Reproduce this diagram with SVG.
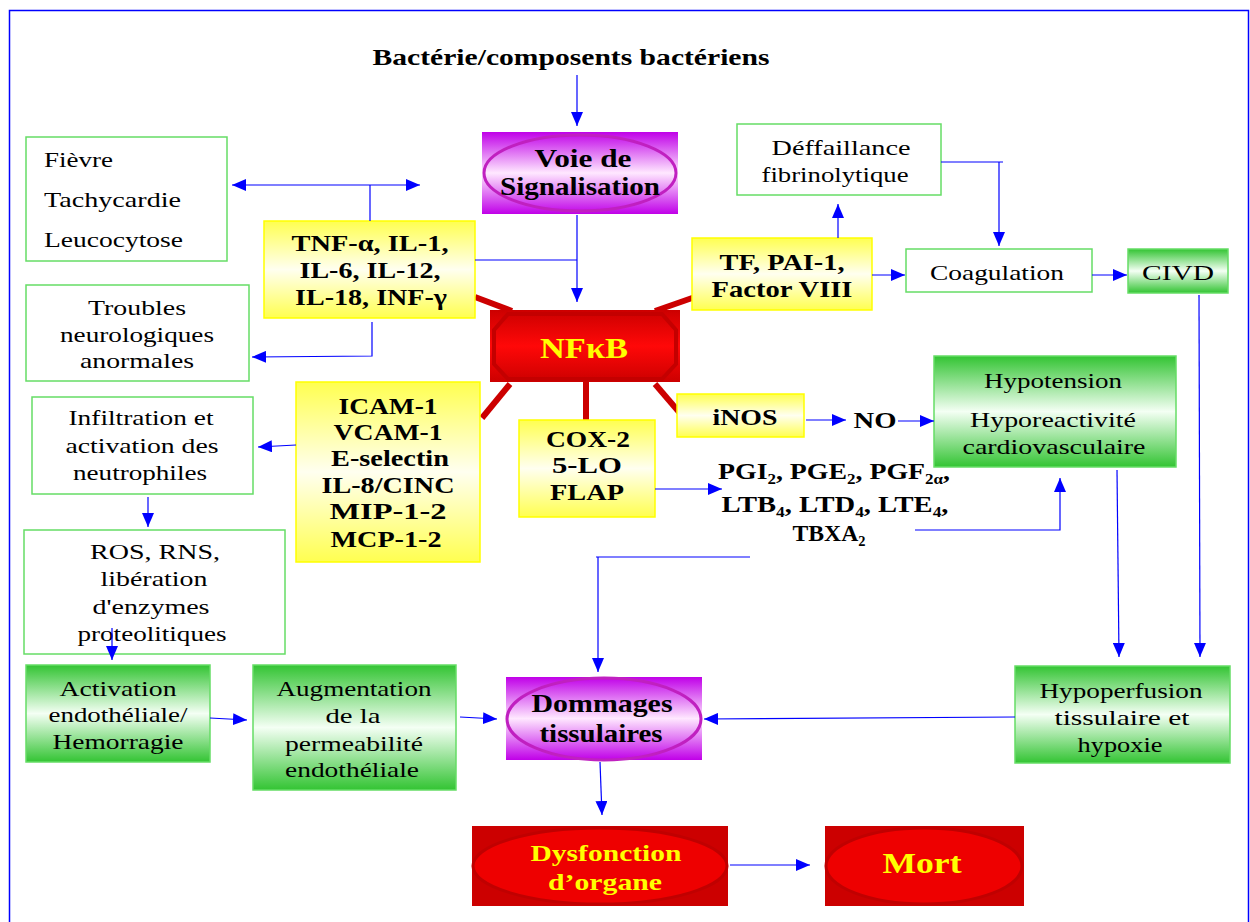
<svg xmlns="http://www.w3.org/2000/svg" width="1250" height="922" viewBox="0 0 1250 922">
<defs>
<linearGradient id="gy" x1="0" y1="0" x2="0" y2="1"><stop offset="0" stop-color="#ffff50"/><stop offset="0.5" stop-color="#fffff0"/><stop offset="1" stop-color="#ffff50"/></linearGradient>
<linearGradient id="gg" x1="0" y1="0" x2="0" y2="1"><stop offset="0" stop-color="#33c433"/><stop offset="0.5" stop-color="#f4fff4"/><stop offset="1" stop-color="#33c433"/></linearGradient>
<linearGradient id="gp" x1="0" y1="0" x2="0" y2="1"><stop offset="0" stop-color="#c000e8"/><stop offset="0.5" stop-color="#ffe8ff"/><stop offset="1" stop-color="#c000e8"/></linearGradient>
<linearGradient id="gr" x1="0" y1="0" x2="0" y2="1"><stop offset="0" stop-color="#cc0000"/><stop offset="0.5" stop-color="#ff0808"/><stop offset="1" stop-color="#cc0000"/></linearGradient>
<marker id="ah" markerUnits="userSpaceOnUse" markerWidth="14" markerHeight="12" viewBox="0 0 14 12" refX="14" refY="6" orient="auto-start-reverse"><path d="M0,0 L14,6 L0,12 z" fill="#0000ff"/></marker>
<style>
text{font-family:"Liberation Serif","Times New Roman",serif;fill:#000;}
.b{font-weight:bold;}
.t20{font-size:22px;}
.t22{font-size:23px;}
.t25{font-size:25px;}
.c{text-anchor:middle;}
.yl{fill:url(#gy);stroke:#ffff00;stroke-width:1.5;}
.gr{fill:url(#gg);stroke:#66dd66;stroke-width:1.5;}
.wb{fill:#fff;stroke:#66dd66;stroke-width:1.5;}
.pu{fill:url(#gp);}
.pe{fill:none;stroke:#c020c0;stroke-width:3;}
.rd{fill:url(#gr);}
.re{fill:none;stroke:#c40000;stroke-width:4;}
.yt{fill:#ffff00;}
.cn{stroke:#0000ff;stroke-width:1.2;fill:none;}
.ar{marker-end:url(#ah);}
.sp{stroke:#cc0000;stroke-width:6;}
.sub{font-size:14px;}
</style>
</defs>
<rect x="9.5" y="10.5" width="1239" height="920" fill="#fff" stroke="#0000ff" stroke-width="1.5"/>

<g id="spokes">
<line class="sp" x1="475" y1="297" x2="512" y2="311"/>
<line class="sp" x1="695" y1="297" x2="655" y2="311"/>
<line class="sp" x1="510" y1="384" x2="482" y2="418"/>
<line class="sp" x1="586" y1="382" x2="586" y2="420"/>
<line class="sp" x1="655" y1="384" x2="679" y2="412"/>
</g>

<g id="title"><text class="b t22 c" x="571" y="65" textLength="397" lengthAdjust="spacingAndGlyphs">Bactérie/composents bactériens</text></g>

<g id="voie">
<rect class="pu" x="482" y="132" width="196" height="82"/>
<ellipse class="pe" cx="580" cy="173" rx="96" ry="38"/>
<text class="b t25 c" x="583" y="167" textLength="97" lengthAdjust="spacingAndGlyphs">Voie de</text>
<text class="b t25 c" x="580" y="195" textLength="160" lengthAdjust="spacingAndGlyphs">Signalisation</text>
</g>

<g id="nfkb">
<rect class="rd" x="490" y="310" width="190" height="72"/>
<polygon class="re" points="508,314 662,314 676,330 676,364 662,379 508,379 494,364 494,330"/>
<text class="b yt c" style="font-size:29px" x="584" y="358" textLength="88" lengthAdjust="spacingAndGlyphs">NFκB</text>
</g>

<g id="tnf">
<rect class="yl" x="264" y="221" width="211" height="97"/>
<text class="b t22 c" x="370" y="251" textLength="157" lengthAdjust="spacingAndGlyphs">TNF-α, IL-1,</text>
<text class="b t22 c" x="370" y="278" textLength="141" lengthAdjust="spacingAndGlyphs">IL-6, IL-12,</text>
<text class="b t22 c" x="371" y="305" textLength="152" lengthAdjust="spacingAndGlyphs">IL-18, INF-γ</text>
</g>

<g id="fievre">
<rect class="wb" x="26" y="137" width="201" height="124"/>
<text class="t20" x="44" y="167" textLength="69" lengthAdjust="spacingAndGlyphs">Fièvre</text>
<text class="t20" x="44" y="207" textLength="137" lengthAdjust="spacingAndGlyphs">Tachycardie</text>
<text class="t20" x="44" y="247" textLength="139" lengthAdjust="spacingAndGlyphs">Leucocytose</text>
</g>

<g id="troubles">
<rect class="wb" x="26" y="285" width="223" height="96"/>
<text class="t20 c" x="137" y="315" textLength="98" lengthAdjust="spacingAndGlyphs">Troubles</text>
<text class="t20 c" x="137" y="342" textLength="154" lengthAdjust="spacingAndGlyphs">neurologiques</text>
<text class="t20 c" x="137" y="368" textLength="114" lengthAdjust="spacingAndGlyphs">anormales</text>
</g>

<g id="icam">
<rect class="yl" x="296" y="382" width="184" height="180"/>
<text class="b t22 c" x="388" y="414" textLength="99" lengthAdjust="spacingAndGlyphs">ICAM-1</text>
<text class="b t22 c" x="388" y="440" textLength="109" lengthAdjust="spacingAndGlyphs">VCAM-1</text>
<text class="b t22 c" x="390" y="466" textLength="118" lengthAdjust="spacingAndGlyphs">E-selectin</text>
<text class="b t22 c" x="388" y="493" textLength="133" lengthAdjust="spacingAndGlyphs">IL-8/CINC</text>
<text class="b t22 c" x="388" y="519" textLength="117" lengthAdjust="spacingAndGlyphs">MIP-1-2</text>
<text class="b t22 c" x="386" y="547" textLength="111" lengthAdjust="spacingAndGlyphs">MCP-1-2</text>
</g>

<g id="infiltration">
<rect class="wb" x="32" y="397" width="221" height="97"/>
<text class="t20 c" x="141" y="425" textLength="145" lengthAdjust="spacingAndGlyphs">Infiltration et</text>
<text class="t20 c" x="142" y="453" textLength="153" lengthAdjust="spacingAndGlyphs">activation des</text>
<text class="t20 c" x="140" y="480" textLength="134" lengthAdjust="spacingAndGlyphs">neutrophiles</text>
</g>

<g id="ros">
<rect class="wb" x="24" y="530" width="261" height="124"/>
<text class="t20 c" x="155" y="559" textLength="130" lengthAdjust="spacingAndGlyphs">ROS, RNS,</text>
<text class="t20 c" x="154" y="586" textLength="107" lengthAdjust="spacingAndGlyphs">libération</text>
<text class="t20 c" x="151" y="614" textLength="117" lengthAdjust="spacingAndGlyphs">d'enzymes</text>
<text class="t20 c" x="152" y="641" textLength="149" lengthAdjust="spacingAndGlyphs">proteolitiques</text>
</g>

<g id="activation">
<rect class="gr" x="26" y="665" width="184" height="97"/>
<text class="t20 c" x="118" y="696" textLength="117" lengthAdjust="spacingAndGlyphs">Activation</text>
<text class="t20 c" x="118" y="722" textLength="139" lengthAdjust="spacingAndGlyphs">endothéliale/</text>
<text class="t20 c" x="118" y="749" textLength="131" lengthAdjust="spacingAndGlyphs">Hemorragie</text>
</g>

<g id="augmentation">
<rect class="gr" x="253" y="665" width="203" height="125"/>
<text class="t20 c" x="354" y="696" textLength="155" lengthAdjust="spacingAndGlyphs">Augmentation</text>
<text class="t20 c" x="353" y="723" textLength="55" lengthAdjust="spacingAndGlyphs">de la</text>
<text class="t20 c" x="354" y="751" textLength="138" lengthAdjust="spacingAndGlyphs">permeabilité</text>
<text class="t20 c" x="352" y="777" textLength="134" lengthAdjust="spacingAndGlyphs">endothéliale</text>
</g>

<g id="dommages">
<rect class="pu" x="506" y="677" width="196" height="83"/>
<ellipse class="pe" cx="604" cy="719" rx="97" ry="41"/>
<text class="b t25 c" x="602" y="712" textLength="141" lengthAdjust="spacingAndGlyphs">Dommages</text>
<text class="b t25 c" x="601" y="742" textLength="123" lengthAdjust="spacingAndGlyphs">tissulaires</text>
</g>

<g id="dysfonction">
<rect fill="#cc0000" x="472" y="826" width="256" height="80"/>
<ellipse fill="#ee0000" stroke="#c00000" stroke-width="3" cx="600" cy="866" rx="127" ry="38"/>
<text class="b t22 c yt" x="606" y="861" textLength="151" lengthAdjust="spacingAndGlyphs">Dysfonction</text>
<text class="b t22 c yt" x="605" y="890" textLength="114" lengthAdjust="spacingAndGlyphs">d’organe</text>
</g>

<g id="mort">
<rect fill="#cc0000" x="825" y="826" width="199" height="80"/>
<ellipse fill="#ee0000" stroke="#c00000" stroke-width="3" cx="924" cy="866" rx="98" ry="38"/>
<text class="b c yt" style="font-size:29px" x="922" y="873" textLength="79" lengthAdjust="spacingAndGlyphs">Mort</text>
</g>

<g id="cox">
<rect class="yl" x="519" y="420" width="136" height="97"/>
<text class="b t22 c" x="588" y="447" textLength="84" lengthAdjust="spacingAndGlyphs">COX-2</text>
<text class="b t22 c" x="587" y="473" textLength="70" lengthAdjust="spacingAndGlyphs">5-LO</text>
<text class="b t22 c" x="587" y="500" textLength="74" lengthAdjust="spacingAndGlyphs">FLAP</text>
</g>

<g id="prostaglandines">
<text class="b t22 c" x="834" y="479" textLength="232" lengthAdjust="spacingAndGlyphs">PGI<tspan class="sub" dy="5">2</tspan><tspan dy="-5">, PGE</tspan><tspan class="sub" dy="5">2</tspan><tspan dy="-5">, PGF</tspan><tspan class="sub" dy="5">2α</tspan><tspan dy="-5">,</tspan></text>
<text class="b t22 c" x="835" y="512" textLength="227" lengthAdjust="spacingAndGlyphs">LTB<tspan class="sub" dy="5">4</tspan><tspan dy="-5">, LTD</tspan><tspan class="sub" dy="5">4</tspan><tspan dy="-5">, LTE</tspan><tspan class="sub" dy="5">4</tspan><tspan dy="-5">,</tspan></text>
<text class="b t22 c" x="829" y="541" textLength="73" lengthAdjust="spacingAndGlyphs">TBXA<tspan class="sub" dy="5">2</tspan></text>
</g>

<g id="inos">
<rect class="yl" x="677" y="394" width="127" height="43"/>
<text class="b t22 c" x="745" y="425" textLength="65" lengthAdjust="spacingAndGlyphs">iNOS</text>
</g>

<g id="no"><text class="b t22 c" x="875" y="428" textLength="43" lengthAdjust="spacingAndGlyphs">NO</text></g>

<g id="hypotension">
<rect class="gr" x="934" y="356" width="242" height="111"/>
<text class="t20 c" x="1053" y="388" textLength="138" lengthAdjust="spacingAndGlyphs">Hypotension</text>
<text class="t20 c" x="1053" y="427" textLength="166" lengthAdjust="spacingAndGlyphs">Hyporeactivité</text>
<text class="t20 c" x="1054" y="454" textLength="183" lengthAdjust="spacingAndGlyphs">cardiovasculaire</text>
</g>

<g id="tf">
<rect class="yl" x="692" y="238" width="180" height="72"/>
<text class="b t22 c" x="782" y="270" textLength="125" lengthAdjust="spacingAndGlyphs">TF, PAI-1,</text>
<text class="b t22 c" x="782" y="297" textLength="141" lengthAdjust="spacingAndGlyphs">Factor VIII</text>
</g>

<g id="deffaillance">
<rect class="wb" x="737" y="124" width="204" height="71"/>
<text class="t20 c" x="841" y="155" textLength="139" lengthAdjust="spacingAndGlyphs">Déffaillance</text>
<text class="t20 c" x="835" y="182" textLength="147" lengthAdjust="spacingAndGlyphs">fibrinolytique</text>
</g>

<g id="coagulation">
<rect class="wb" x="906" y="249" width="186" height="43"/>
<text class="t20 c" x="997" y="280" textLength="134" lengthAdjust="spacingAndGlyphs">Coagulation</text>
</g>

<g id="civd">
<rect class="gr" x="1128" y="249" width="100" height="44"/>
<text class="t20 c" x="1178" y="280" textLength="72" lengthAdjust="spacingAndGlyphs">CIVD</text>
</g>

<g id="hypoperfusion">
<rect class="gr" x="1015" y="666" width="215" height="97"/>
<text class="t20 c" x="1121" y="698" textLength="163" lengthAdjust="spacingAndGlyphs">Hypoperfusion</text>
<text class="t20 c" x="1122" y="725" textLength="135" lengthAdjust="spacingAndGlyphs">tissulaire et</text>
<text class="t20 c" x="1120" y="752" textLength="85" lengthAdjust="spacingAndGlyphs">hypoxie</text>
</g>

<g id="connectors">
<line class="cn ar" x1="577" y1="75" x2="577" y2="126"/>
<line class="cn ar" x1="577" y1="215" x2="577" y2="302"/>
<line class="cn" x1="475" y1="260" x2="577" y2="260"/>
<line class="cn" x1="370" y1="185" x2="370" y2="221"/>
<line class="cn ar" x1="232" y1="185" x2="420" y2="185" style="marker-start:url(#ah)"/>
<polyline class="cn ar" points="372,322 372,356 252,357"/>
<line class="cn ar" x1="296" y1="445" x2="258" y2="447"/>
<line class="cn ar" x1="148" y1="497" x2="148" y2="527"/>
<line class="cn ar" x1="112" y1="628" x2="112" y2="660"/>
<line class="cn ar" x1="210" y1="718" x2="247" y2="720"/>
<line class="cn ar" x1="460" y1="717" x2="497" y2="719"/>
<line class="cn ar" x1="1015" y1="717" x2="704" y2="719"/>
<line class="cn ar" x1="600" y1="762" x2="602" y2="815"/>
<line class="cn ar" x1="730" y1="865" x2="810" y2="865"/>
<line class="cn ar" x1="655" y1="489" x2="722" y2="489"/>
<polyline class="cn ar" points="915,530 1060,530 1060,478"/>
<line class="cn" x1="596" y1="557" x2="750" y2="557"/>
<line class="cn ar" x1="598" y1="557" x2="598" y2="672"/>
<line class="cn ar" x1="806" y1="420" x2="846" y2="420"/>
<line class="cn ar" x1="898" y1="421" x2="934" y2="421"/>
<line class="cn ar" x1="1117" y1="470" x2="1119" y2="657"/>
<line class="cn ar" x1="1199" y1="295" x2="1200" y2="657"/>
<line class="cn ar" x1="838" y1="238" x2="838" y2="204"/>
<line class="cn" x1="941" y1="162" x2="1003" y2="162"/>
<line class="cn ar" x1="999" y1="162" x2="999" y2="246"/>
<line class="cn ar" x1="872" y1="275" x2="905" y2="275"/>
<line class="cn ar" x1="1092" y1="275" x2="1127" y2="275"/>
</g>
</svg>
